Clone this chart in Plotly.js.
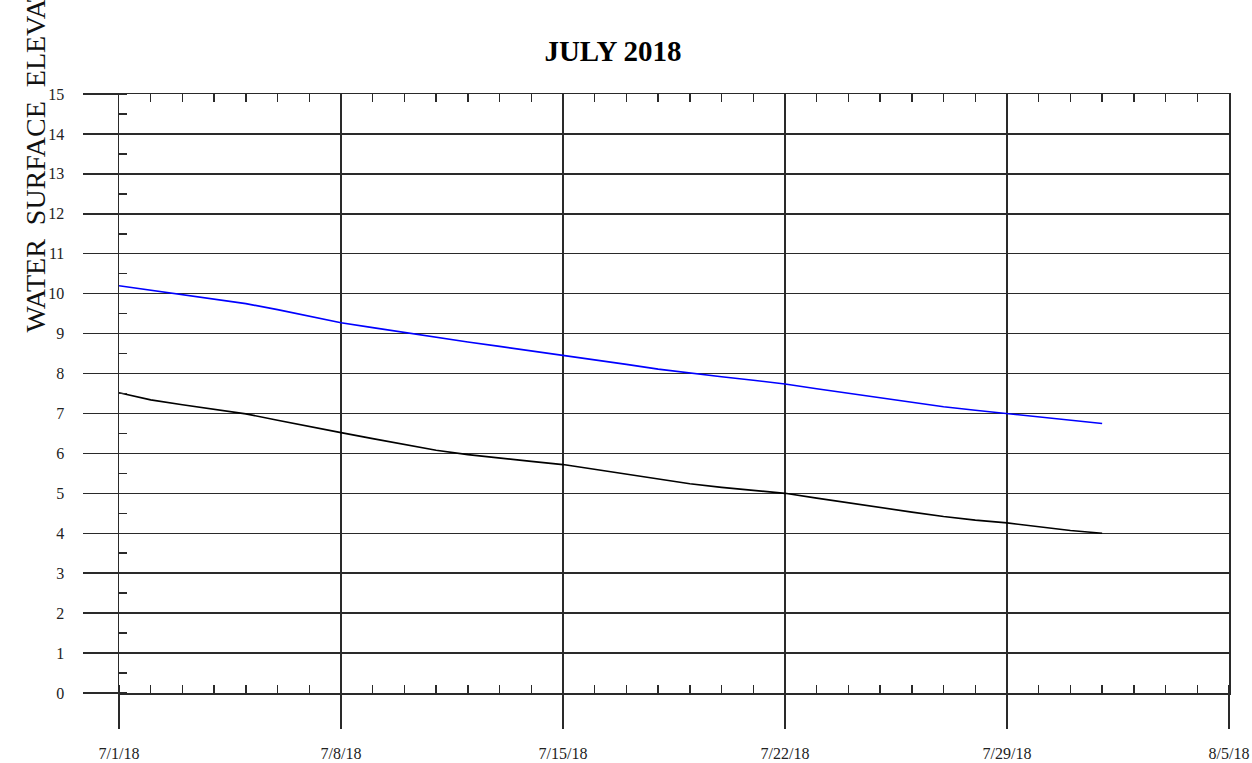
<!DOCTYPE html>
<html>
<head>
<meta charset="utf-8">
<script src="https://cdn.plot.ly/plotly-3.0.1.min.js"></script>
<style>html,body{margin:0;padding:0;background:#fff;}#chart{width:1252px;height:763px;}</style>
</head>
<body>
<div id="chart"></div>
<script>
const dates = [
  '2018-07-01','2018-07-02','2018-07-03','2018-07-04','2018-07-05','2018-07-06','2018-07-07','2018-07-08',
  '2018-07-09','2018-07-10','2018-07-11','2018-07-12','2018-07-13','2018-07-14','2018-07-15','2018-07-16',
  '2018-07-17','2018-07-18','2018-07-19','2018-07-20','2018-07-21','2018-07-22','2018-07-23','2018-07-24',
  '2018-07-25','2018-07-26','2018-07-27','2018-07-28','2018-07-29','2018-07-30','2018-07-31','2018-08-01'
];
const blueSeries = [
  10.20, 10.09, 9.98, 9.87, 9.75, 9.60, 9.44, 9.27,
  9.15, 9.03, 8.90, 8.79, 8.68, 8.57, 8.46, 8.35,
  8.23, 8.11, 8.01, 7.92, 7.83, 7.74, 7.62, 7.51,
  7.40, 7.29, 7.17, 7.08, 7.00, 6.91, 6.83, 6.75
];
const blackSeries = [
  7.52, 7.34, 7.22, 7.11, 6.99, 6.83, 6.67, 6.52,
  6.37, 6.22, 6.08, 5.97, 5.88, 5.80, 5.72, 5.60,
  5.48, 5.36, 5.24, 5.15, 5.08, 5.00, 4.88, 4.76,
  4.65, 4.53, 4.42, 4.33, 4.26, 4.16, 4.07, 4.00
];
const xRange = ['2018-07-01', '2018-08-05'];
const yRange = [0, 15];
const chartTitle = 'JULY 2018';
const yTitle = 'WATER\u00A0\u00A0SURFACE\u00A0\u00A0ELEVATION\u00A0\u00A0(FEET)';

const ink = '#2a2a2a';
const serif = 'Liberation Serif, Times New Roman, serif';

const traces = [
  {x: dates, y: blueSeries, type: 'scatter', mode: 'lines', line: {color: '#0000ff', width: 1.6}, hoverinfo: 'skip'},
  {x: dates, y: blackSeries, type: 'scatter', mode: 'lines', line: {color: '#000000', width: 1.6}, hoverinfo: 'skip'},
  {x: [dates[0]], y: [null], xaxis: 'x2', yaxis: 'y', type: 'scatter', mode: 'lines', showlegend: false, hoverinfo: 'skip'}
];

const layout = {
  width: 1252, height: 763,
  margin: {l: 119, r: 23, t: 94, b: 70},
  paper_bgcolor: '#fff', plot_bgcolor: '#fff',
  showlegend: false,
  title: {text: '<b>' + chartTitle + '</b>', font: {family: serif, size: 29, color: '#000'},
          xref: 'container', x: 613/1252, xanchor: 'center', yref: 'container', y: 1 - 51/763, yanchor: 'middle'},
  xaxis: {
    type: 'date', range: xRange, tick0: xRange[0], dtick: 7*86400000,
    tickformat: '%-m/%-d/%y', ticks: 'outside', ticklen: 34, tickwidth: 1.5, tickcolor: ink,
    showgrid: true, gridcolor: ink, gridwidth: 1.5, zeroline: false,
    showline: true, mirror: true, linecolor: ink, linewidth: 1.5,
    minor: {dtick: 86400000, tick0: xRange[0], ticks: 'inside', ticklen: 8, tickwidth: 1.5, tickcolor: ink, showgrid: false},
    tickfont: {family: serif, size: 16, color: '#222'}, ticklabelstandoff: 11
  },
  xaxis2: {
    type: 'date', range: xRange, overlaying: 'x', side: 'top', tick0: xRange[0], dtick: 86400000,
    ticks: 'inside', ticklen: 8, tickwidth: 1.5, tickcolor: ink, showticklabels: false,
    showgrid: false, zeroline: false, showline: false
  },
  yaxis: {
    range: yRange, dtick: 1, tick0: 0, ticks: 'outside', ticklen: 35, tickwidth: 1.5, tickcolor: ink,
    showgrid: true, gridcolor: ink, gridwidth: 1.5, zeroline: false,
    showline: true, mirror: true, linecolor: ink, linewidth: 1.5,
    minor: {dtick: 0.5, ticks: 'inside', ticklen: 8, tickwidth: 1.5, tickcolor: ink, showgrid: false},
    tickfont: {family: serif, size: 16, color: '#222'}, ticklabelstandoff: 15
  },
  annotations: [{
    text: yTitle, textangle: -90, showarrow: false,
    xref: 'paper', yref: 'paper', x: (35-119)/1110, y: (693-335)/599,
    xanchor: 'center', yanchor: 'bottom',
    font: {family: serif, size: 28, color: '#111'}
  }]
};

Plotly.newPlot('chart', traces, layout, {staticPlot: true, displayModeBar: false});
</script>
</body>
</html>
